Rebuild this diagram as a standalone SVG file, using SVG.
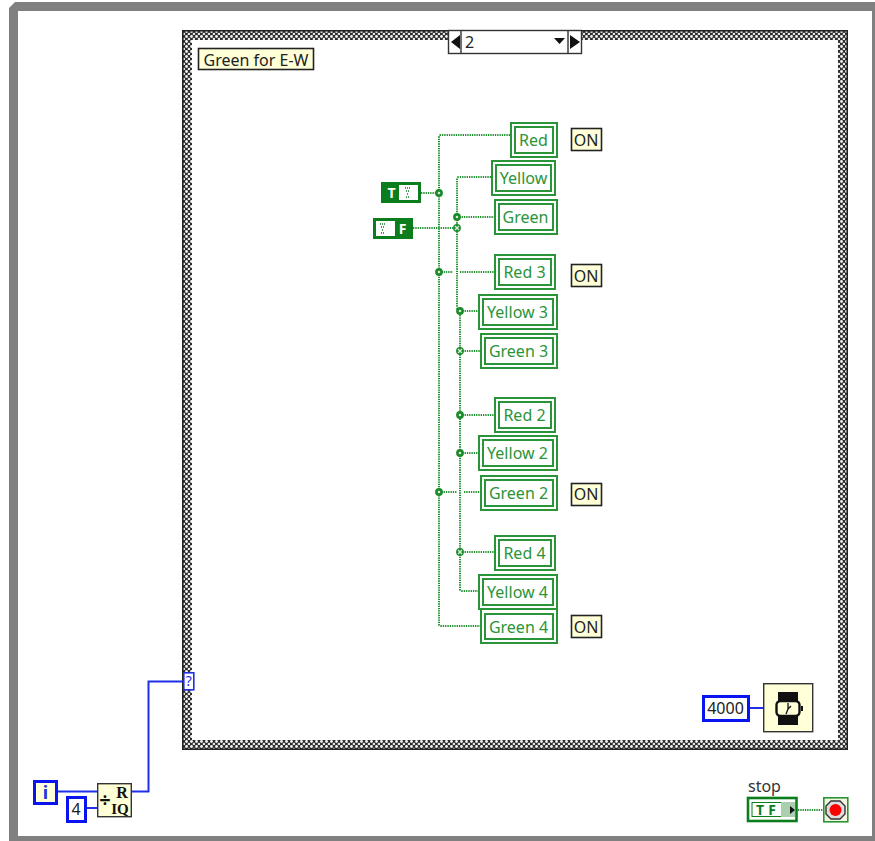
<svg xmlns="http://www.w3.org/2000/svg" width="875" height="841" viewBox="0 0 875 841">
<style>
text{font-family:"Noto Sans","Liberation Sans",Arial,sans-serif;font-size:16px}
.ind{fill:#fff;stroke:#2a9438;stroke-width:2}
.ind-t{fill:#2a9438;text-anchor:middle}
.lab{fill:#ffffd8;stroke:#222;stroke-width:1.6}
.lab-t{fill:#222;text-anchor:middle}
.w{fill:none;stroke:#1f8f2f;stroke-width:2;stroke-dasharray:1.3 1}
.b{fill:none;stroke:#1f2fe8;stroke-width:2}
.dot{fill:#d4ecd6;stroke:#1b8a2a;stroke-width:2.6}
.x{stroke:#d4ecd6;stroke-width:1.2}
.num{fill:#fff;stroke:#0a14f0;stroke-width:3}
.con{fill:#fff;stroke:#0b7d1c;stroke-width:3}
.sq{fill:#0b7d1c}
.sq-t{fill:#fff;font-size:14px;font-weight:bold;text-anchor:middle}
.icon{fill:#ffffd8;stroke:#333;stroke-width:1.4}
</style>
<defs>
<pattern id="fr" width="5" height="5" patternUnits="userSpaceOnUse">
<rect width="5" height="5" fill="#2e2e2e"/>
<circle cx="1.5" cy="1.5" r="1.4" fill="#f4f4f4"/>
<circle cx="4" cy="4" r="1.3" fill="#e8e8e8"/>
</pattern>
</defs>
<rect width="875" height="841" fill="#fff"/>
<path id="diagram-border" fill="#808080" d="M15 2H875V11H18V836H872V11H875V841H9V8Z"/>
<g id="case-frame">
<path fill="url(#fr)" fill-rule="evenodd" d="M182 30H848V750H182ZM192 40V740H838V40Z"/>
<rect x="182.800" y="30.800" width="664.400" height="718.400" fill="none" stroke="#222" stroke-width="1.600"/>
</g>
<g id="case-selector">
<rect x="448.500" y="30.500" width="133" height="23" fill="#fff" stroke="#333" stroke-width="1.400"/>
<path d="M461 31V53M568 31V53" stroke="#333" stroke-width="1.400"/>
<path d="M451 42L460 35V49ZM580 42L570 35V49ZM554 38H565L559.500 44Z" fill="#111"/>
<text x="465" y="48" fill="#222">2</text>
</g>
<g id="case-label">
<rect class="lab" x="198.500" y="48.500" width="115" height="21"/>
<text class="lab-t" x="256" y="65.500">Green for E-W</text>
</g>
<g id="connectors">
<path class="w" d="M510 135H441Q439 135 439 137V624Q439 626 441 626H480"/>
<path class="w" d="M421 193H439"/>
<path class="w" d="M413 228H457"/>
<path class="w" d="M491 177H459Q457 177 457 179V306Q457 311 460 311V589Q460 591 462 591H478"/>
<path class="w" d="M457 217H494"/>
<path class="w" d="M439 272H453M460 272H494"/>
<path class="w" d="M460 311H478"/>
<path class="w" d="M460 351H480"/>
<path class="w" d="M460 415H494"/>
<path class="w" d="M460 453H478"/>
<path class="w" d="M439 492H457M464 492H480"/>
<path class="w" d="M460 552H494"/>
<path class="w" d="M798 810H823"/>
<path class="b" d="M57 791.500H97"/>
<path class="b" d="M86 808H97"/>
<path class="b" d="M132 791.500H148.500V681.500H183"/>
<path class="b" d="M750 708H763"/>
<circle class="dot" cx="439" cy="193" r="2.600"/>
<circle class="dot" cx="439" cy="272" r="2.600"/>
<circle class="dot" cx="439" cy="492" r="2.600"/>
<circle class="dot" cx="457" cy="217" r="2.600"/>
<circle class="dot" cx="457" cy="228" r="2.600"/>
<path class="x" d="M455 226L459 230M459 226L455 230"/>
<circle class="dot" cx="460" cy="311" r="2.600"/>
<circle class="dot" cx="460" cy="351" r="2.600"/>
<path class="x" d="M458 349L462 353M462 349L458 353"/>
<circle class="dot" cx="460" cy="415" r="2.600"/>
<circle class="dot" cx="460" cy="453" r="2.600"/>
<circle class="dot" cx="460" cy="552" r="2.600"/>
<path class="x" d="M458 550L462 554M462 550L458 554"/>
</g>
<g id="const-true">
<rect class="con" x="382.500" y="183.500" width="37" height="18"/>
<rect class="sq" x="384" y="185" width="15" height="15"/>
<text class="sq-t" x="391.500" y="197.500">T</text>
<path d="M405 188h6M406 191h4M407 194h2M406 197h3" stroke="#0b7d1c" stroke-width="1.600" stroke-dasharray="1 1"/>
</g>
<g id="const-false">
<rect class="con" x="374.500" y="219.500" width="37" height="18"/>
<rect class="sq" x="395" y="221" width="15" height="15"/>
<text class="sq-t" x="402.500" y="233.500">F</text>
<path d="M380 224h6M381 227h4M382 230h2M381 233h3" stroke="#0b7d1c" stroke-width="1.600" stroke-dasharray="1 1"/>
</g>
<g id="ind-red"><rect class="ind" x="511" y="123" width="46" height="34"/><rect class="ind" x="515" y="127" width="38" height="26"/><text class="ind-t" x="533.500" y="146">Red</text></g>
<g id="ind-yellow"><rect class="ind" x="492" y="161" width="63" height="34"/><rect class="ind" x="496" y="165" width="55" height="26"/><text class="ind-t" x="523.500" y="184">Yellow</text></g>
<g id="ind-green"><rect class="ind" x="495" y="200" width="62" height="34"/><rect class="ind" x="499" y="204" width="54" height="26"/><text class="ind-t" x="525.500" y="223">Green</text></g>
<g id="ind-red3"><rect class="ind" x="495" y="255" width="60" height="34"/><rect class="ind" x="499" y="259" width="52" height="26"/><text class="ind-t" x="524.500" y="278">Red 3</text></g>
<g id="ind-yellow3"><rect class="ind" x="479" y="295" width="78" height="34"/><rect class="ind" x="483" y="299" width="70" height="26"/><text class="ind-t" x="517.500" y="318">Yellow 3</text></g>
<g id="ind-green3"><rect class="ind" x="481" y="334" width="76" height="34"/><rect class="ind" x="485" y="338" width="68" height="26"/><text class="ind-t" x="518.500" y="357">Green 3</text></g>
<g id="ind-red2"><rect class="ind" x="495" y="398" width="60" height="34"/><rect class="ind" x="499" y="402" width="52" height="26"/><text class="ind-t" x="524.500" y="421">Red 2</text></g>
<g id="ind-yellow2"><rect class="ind" x="479" y="436" width="78" height="34"/><rect class="ind" x="483" y="440" width="70" height="26"/><text class="ind-t" x="517.500" y="459">Yellow 2</text></g>
<g id="ind-green2"><rect class="ind" x="481" y="476" width="76" height="34"/><rect class="ind" x="485" y="480" width="68" height="26"/><text class="ind-t" x="518.500" y="499">Green 2</text></g>
<g id="ind-red4"><rect class="ind" x="495" y="536" width="60" height="34"/><rect class="ind" x="499" y="540" width="52" height="26"/><text class="ind-t" x="524.500" y="559">Red 4</text></g>
<g id="ind-yellow4"><rect class="ind" x="479" y="575" width="78" height="34"/><rect class="ind" x="483" y="579" width="70" height="26"/><text class="ind-t" x="517.500" y="598">Yellow 4</text></g>
<g id="ind-green4"><rect class="ind" x="481" y="609" width="76" height="34"/><rect class="ind" x="485" y="614" width="68" height="25"/><text class="ind-t" x="518.500" y="633">Green 4</text></g>
<g id="on-1"><rect class="lab" x="571.500" y="128.500" width="30" height="22"/><text class="lab-t" x="586" y="146">ON</text></g>
<g id="on-2"><rect class="lab" x="571.500" y="264.500" width="30" height="22"/><text class="lab-t" x="586" y="282">ON</text></g>
<g id="on-3"><rect class="lab" x="571.500" y="483.500" width="30" height="22"/><text class="lab-t" x="586" y="500">ON</text></g>
<g id="on-4"><rect class="lab" x="571.500" y="615.500" width="30" height="22"/><text class="lab-t" x="586" y="633">ON</text></g>
<g id="case-terminal">
<rect x="183.800" y="672.800" width="10" height="17" fill="#fff" stroke="#1f2fe8" stroke-width="1.600"/>
<text x="188.800" y="686" text-anchor="middle" fill="#1f2fe8" style="font-size:14px">?</text>
</g>
<g id="iteration">
<rect class="num" x="34.500" y="781.500" width="22" height="22" style="fill:#ffffd8"/>
<text x="45.500" y="799" text-anchor="middle" fill="#1f2fe8" style="font-weight:bold;font-size:18px">i</text>
</g>
<g id="const-4">
<rect class="num" x="67.500" y="797.500" width="18" height="24"/>
<text x="76" y="815" text-anchor="middle" fill="#222">4</text>
</g>
<g id="quotient">
<rect class="icon" x="97.700" y="783.700" width="33.600" height="33"/>
<text x="105" y="807" text-anchor="middle" fill="#111" style="font-weight:bold;font-size:20px">÷</text>
<text x="122" y="798" text-anchor="middle" fill="#111" style="font-family:'Liberation Serif',serif;font-weight:bold;font-size:16px">R</text>
<text x="120" y="814" text-anchor="middle" fill="#111" style="font-family:'Liberation Serif',serif;font-weight:bold;font-size:15px">IQ</text>
</g>
<g id="const-4000">
<rect class="num" x="703.500" y="696.500" width="45" height="24"/>
<text x="725.500" y="714" text-anchor="middle" fill="#222">4000</text>
</g>
<g id="wait">
<rect class="icon" x="763.700" y="683.700" width="49" height="48"/>
<rect x="778" y="692" width="20" height="33" fill="#111"/>
<rect x="776.500" y="701" width="23" height="15" rx="4" fill="#ffffd8" stroke="#111" stroke-width="2.400"/>
<rect x="801" y="706" width="2" height="5" fill="#111"/>
<path d="M788 703V709L786 714M788 709L791 706" fill="none" stroke="#111" stroke-width="1.300"/>
</g>
<g id="stop-terminal">
<text x="748" y="792" fill="#333">stop</text>
<rect x="748" y="798" width="48.500" height="23" fill="#fff" stroke="#0b7d1c" stroke-width="2.600"/>
<rect x="752" y="802.500" width="31" height="14" fill="#fff" stroke="#0b7d1c" stroke-width="1"/>
<rect x="781" y="802" width="14" height="15" fill="#a9cfae"/>
<text x="768" y="815" text-anchor="middle" fill="#0b7d1c" style="font-size:14px;font-weight:bold;letter-spacing:4px">TF</text>
<path d="M790 806L795 810L790 814Z" fill="#111"/>
</g>
<g id="loop-condition">
<rect x="823.800" y="797.800" width="24" height="24" fill="#f4f8e0" stroke="#2a9438" stroke-width="1.600"/>
<path d="M831 801H840L845 806V814L840 819H831L826 814V806Z" fill="#ddd" stroke="#333" stroke-width="1.400"/>
<circle cx="835.500" cy="810" r="6" fill="#f00"/>
</g>
</svg>
